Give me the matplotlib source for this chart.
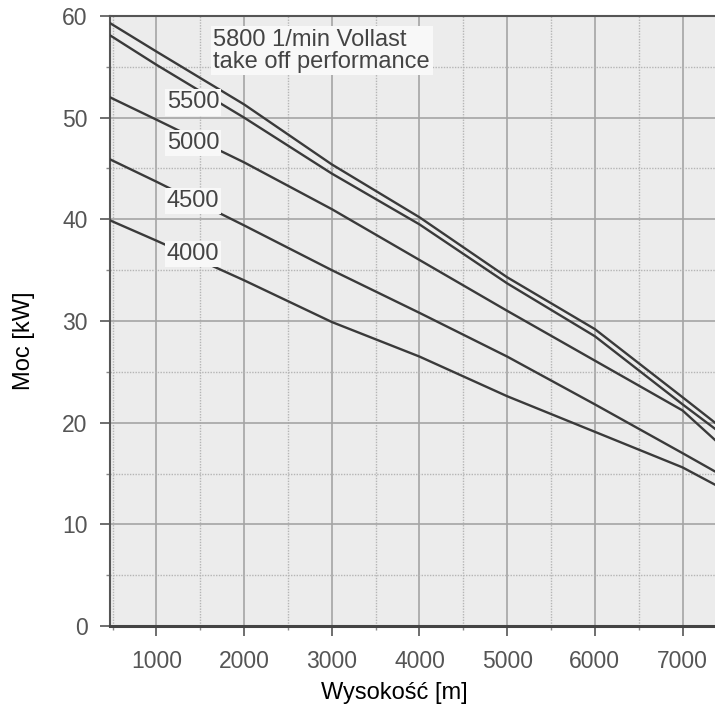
import numpy as np
import matplotlib.pyplot as plt
from matplotlib.ticker import MultipleLocator

plt.rcParams['font.family'] = ['Liberation Sans', 'DejaVu Sans']

# Wysokosc [m] und Leistung [kW] fuer verschiedene Drehzahlen
hoehe = [470, 1000, 2000, 3000, 4000, 5000, 6000, 7000, 7370]
p5800 = [59.3, 56.5, 51.3, 45.4, 40.2, 34.3, 29.2, 22.5, 20.0]
p5500 = [58.1, 55.2, 50.0, 44.5, 39.5, 33.7, 28.5, 21.8, 19.4]
p5000 = [52.0, 49.8, 45.6, 41.0, 36.0, 31.0, 26.1, 21.2, 18.3]
p4500 = [45.9, 43.7, 39.4, 35.0, 30.8, 26.5, 21.8, 17.0, 15.2]
p4000 = [39.9, 37.9, 34.0, 29.9, 26.5, 22.6, 19.1, 15.6, 13.9]

labels = ["5500", "5000", "4500", "4000"]
label_y = [51.5, 47.5, 41.8, 36.6]
titel = "5800 1/min Vollast\ntake off performance"

fig = plt.figure(figsize=(7.15, 7.13), dpi=100)
ax = fig.add_axes([0.1538, 0.122, 0.8462, 0.8556])
ax.set_facecolor('#ececec')

for p in [p5800, p5500, p5000, p4500, p4000]:
    ax.plot(hoehe, p, color='#3a3a3a', lw=1.7, zorder=3)

ax.set_xlim(470, 7370)
ax.set_ylim(0, 60)

ax.xaxis.set_major_locator(MultipleLocator(1000))
ax.xaxis.set_minor_locator(MultipleLocator(500))
ax.yaxis.set_major_locator(MultipleLocator(10))
ax.yaxis.set_minor_locator(MultipleLocator(5))
ax.set_xticks(range(1000, 8000, 1000))

ax.grid(which='major', color='#a5a5a5', lw=1.2, zorder=1)
ax.grid(which='minor', color='#b5b5b5', lw=1.0, ls=(0, (1, 1)), zorder=1)
ax.set_axisbelow(True)

ax.tick_params(which='major', length=7, width=1.2, color='#555555',
               labelsize=16.5, labelcolor='#555555')
ax.tick_params(axis='x', which='major', pad=10)
ax.tick_params(axis='y', which='major', pad=9)
ax.tick_params(which='minor', length=3, width=1.0, color='#888888')

for s in ['left', 'top']:
    ax.spines[s].set_color('#555555')
    ax.spines[s].set_linewidth(1.5)
ax.spines['bottom'].set_color('#444444')
ax.spines['bottom'].set_linewidth(2.2)
ax.spines['right'].set_visible(False)

for lab, yy in zip(labels, label_y):
    ax.text(1416, yy, lab, ha='center', va='center', fontsize=17, color='#444444',
            zorder=5, bbox=dict(facecolor='#f8f8f8', edgecolor='none', pad=1.5))

ax.text(1650, 56.6, titel, ha='left', va='center', fontsize=17, color='#444444',
        linespacing=1.0, zorder=5,
        bbox=dict(facecolor='#f8f8f8', edgecolor='none', pad=2))

ax.set_xlabel('Wysokość [m]', fontsize=17)
ax.set_ylabel('Moc [kW]', fontsize=17)
ax.xaxis.set_label_coords(0.47, -0.092)
ax.yaxis.set_label_coords(-0.124, 0.467)

fig.savefig('out.png', dpi=100)
